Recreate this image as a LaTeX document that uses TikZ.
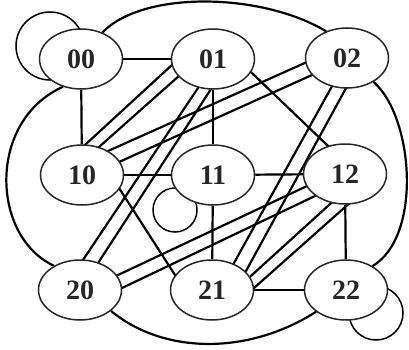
\documentclass[tikz,border=0pt]{standalone}
\usepackage{fontspec}
\setmainfont{Liberation Serif}
\usetikzlibrary{calc, backgrounds, shapes.geometric}

\tikzset{
  vert/.style={ellipse, draw, fill=white, line width=1.5pt, minimum width=83pt,
    minimum height=60pt, inner sep=0pt, font=\fontsize{28}{28}\selectfont\bfseries},
  link/.style={line width=2.2pt},
  pair/.style={link, shorten <=-12pt, shorten >=-12pt},
  selfloop/.style={line width=1.5pt},
}

\begin{document}
\begin{tikzpicture}[x=1pt, y=-1pt, color=black!85]
  \useasboundingbox (0,0) rectangle (409,350);
  % vertices
  \node[vert] (n00) at (81,59) {00};
  \node[vert] (n01) at (213,59) {01};
  \node[vert] (n02) at (347,58) {02};
  \node[vert] (n10) at (82,175) {10};
  \node[vert] (n11) at (213,175) {11};
  \node[vert] (n12) at (345,174) {12};
  \node[vert] (n20) at (80,290) {20};
  \node[vert] (n21) at (212,290) {21};
  \node[vert] (n22) at (346,290) {22};

  \begin{scope}[on background layer]
    % grid edges
    \draw[link] (n00) -- (n01);
    \draw[link] (n00) -- (n10);
    \draw[link] (n01) -- (n11);
    \draw[link] (n10) -- (n11);
    \draw[link] (n11) -- (n12);
    \draw[link] (n11) -- (n21);
    \draw[link] (n12) -- (n22);
    \draw[link] (n21) -- (n22);
    % single diagonals
    \draw[pair] ($(n01)+(41,16)$) -- ($(n12)+(-18,-29)$);
    \draw[pair] ($(n10)+(37,13)$) -- ($(n21)+(-37,-15)$);
    % double diagonals
    \draw[pair] ($(n01)+(-40,5)$) -- ($(n10)+(4,-31)$);
    \draw[pair] ($(n01)+(-33,16)$) -- ($(n10)+(17,-28)$);
    \draw[pair] ($(n01)+(-15,29)$) -- ($(n20)+(5,-33)$);
    \draw[pair] ($(n01)+(-2,30)$) -- ($(n20)+(20,-30)$);
    \draw[pair] ($(n02)+(-40,4)$) -- ($(n10)+(26,-24)$);
    \draw[pair] ($(n02)+(-35,17)$) -- ($(n10)+(37,-13)$);
    \draw[pair] ($(n02)+(-16,30)$) -- ($(n21)+(22,-27)$);
    \draw[pair] ($(n02)+(-2,32)$) -- ($(n21)+(34,-19)$);
    \draw[pair] ($(n12)+(-38,12)$) -- ($(n20)+(38,-15)$);
    \draw[pair] ($(n12)+(-30,22)$) -- ($(n20)+(42,-2)$);
    \draw[pair] ($(n12)+(-16,31)$) -- ($(n21)+(40,-15)$);
    \draw[pair] ($(n12)+(-1,34)$) -- ($(n21)+(42,-2)$);
    % outer wrap-around arcs
    \draw[link] (n00.51) .. controls +(40,-42) and +(-65,-39) .. (n02.128);
    \draw[link] (n00.237) .. controls +(-76,34) and +(-63,-29) .. (n20.137);
    \draw[link] (n02.-42) .. controls +(40,35) and +(50,-30) .. (n22.42);
    \draw[link] (n20.-34) .. controls +(52,43) and +(-69,44) .. (n22.216);
    % self loops
    \draw[selfloop] (n00) ++(-31,-13) circle[radius=34];
    \draw[selfloop] (n11) ++(-38,35) circle[radius=22];
    \draw[selfloop] (n22) ++(30,23) circle[radius=27];
  \end{scope}
\end{tikzpicture}
\end{document}
